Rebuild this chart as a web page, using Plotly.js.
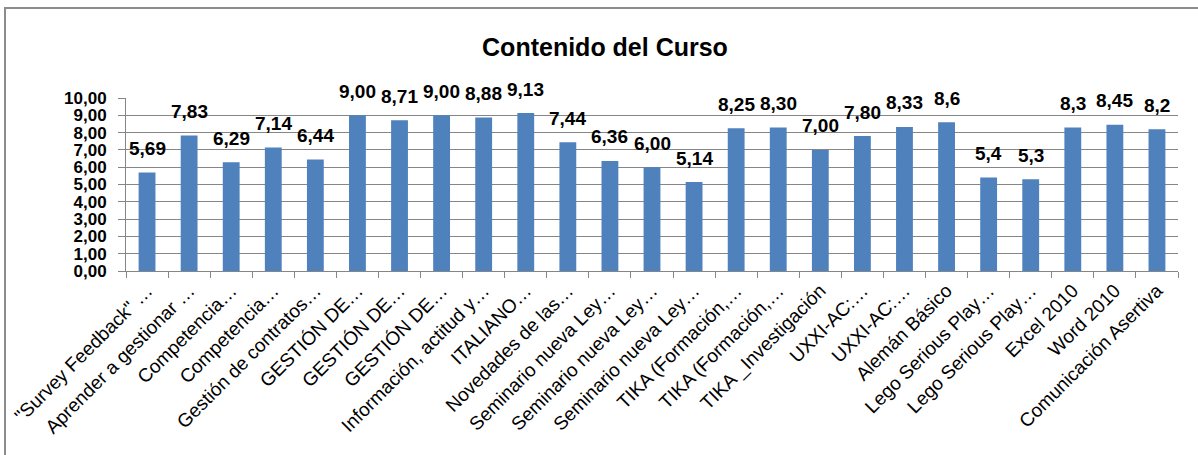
<!DOCTYPE html>
<html>
<head>
<meta charset="utf-8">
<script src="https://cdn.plot.ly/plotly-3.0.1.min.js"></script>
<style>
html,body{margin:0;padding:0;background:#fff;}
#chart{width:1198px;height:455px;}
</style>
</head>
<body>
<div id="chart"></div>
<script>
const categories = [
  '"Survey Feedback" \u2026',
  'Aprender a gestionar \u2026',
  'Competencia\u2026',
  'Competencia\u2026',
  'Gestión de contratos\u2026',
  'GESTIÓN DE\u2026',
  'GESTIÓN DE\u2026',
  'GESTIÓN DE\u2026',
  'Información, actitud y\u2026',
  'ITALIANO\u2026',
  'Novedades de las\u2026',
  'Seminario nueva Ley\u2026',
  'Seminario nueva Ley\u2026',
  'Seminario nueva Ley\u2026',
  'TIKA (Formación,\u2026',
  'TIKA (Formación,\u2026',
  'TIKA _Investigación',
  'UXXI-AC:\u2026',
  'UXXI-AC:\u2026',
  'Alemán Básico',
  'Lego Serious Play\u2026',
  'Lego Serious Play\u2026',
  'Excel 2010',
  'Word 2010',
  'Comunicación Asertiva'
];
const values = [5.69, 7.83, 6.29, 7.14, 6.44, 9.00, 8.71, 9.00, 8.88, 9.13, 7.44, 6.36, 6.00, 5.14, 8.25, 8.30, 7.00, 7.80, 8.33, 8.6, 5.4, 5.3, 8.3, 8.45, 8.2];
const valueLabels = ['5,69','7,83','6,29','7,14','6,44','9,00','8,71','9,00','8,88','9,13','7,44','6,36','6,00','5,14','8,25','8,30','7,00','7,80','8,33','8,6','5,4','5,3','8,3','8,45','8,2'];
const yTicks = [0,1,2,3,4,5,6,7,8,9,10];

const idx = categories.map((c, i) => i);
const boundaries = categories.map((c, i) => i - 0.5).concat([categories.length - 0.5]);
const FONT = 'Liberation Sans, Arial, sans-serif';
const GRID = '#868686';

const trace = {
  type: 'bar',
  x: idx,
  y: values,
  marker: {color: '#4F81BD'},
  hoverinfo: 'skip'
};
const trace2 = {
  type: 'scatter', mode: 'none', x: [categories.length - 0.5], y: [0],
  xaxis: 'x2', yaxis: 'y', showlegend: false, hoverinfo: 'skip'
};

const annotations = values.map((v, i) => ({
  x: i, y: v, xref: 'x', yref: 'y',
  text: valueLabels[i], showarrow: false,
  yanchor: 'middle', yshift: 24,
  font: {family: FONT, size: 19, color: '#000', weight: 'bold'}
}));

const layout = {
  width: 1198, height: 455,
  margin: {l: 126, r: 20, t: 98, b: 184},
  paper_bgcolor: '#fff', plot_bgcolor: '#fff',
  separators: ',.',
  showlegend: false,
  bargap: 0.6,
  title: {
    text: '<b>Contenido del Curso</b>',
    x: 0.505, xref: 'container', xanchor: 'center',
    y: 1 - 47/455, yref: 'container', yanchor: 'middle',
    font: {family: FONT, size: 25, color: '#000'}
  },
  xaxis: {
    range: [-0.5, categories.length - 0.5],
    tickmode: 'array', tickvals: idx, ticktext: categories,
    tickangle: -45, ticks: '',
    tickfont: {family: FONT, size: 19, color: '#000'},
    showgrid: false, zeroline: false,
    showline: true, linecolor: GRID, linewidth: 1
  },
  xaxis2: {
    overlaying: 'x', anchor: 'y', side: 'bottom',
    range: [-0.5, categories.length - 0.5],
    tickmode: 'array', tickvals: boundaries,
    ticks: 'outside', ticklen: 6, tickcolor: GRID, tickwidth: 1,
    showticklabels: false, showgrid: false, zeroline: false, showline: false
  },
  yaxis: {
    range: [0, 10],
    tickmode: 'array', tickvals: yTicks,
    tickformat: '.2f',
    ticks: 'outside', ticklen: 7, tickcolor: GRID,
    ticklabelstandoff: 8,
    tickfont: {family: FONT, size: 17, color: '#000', weight: 'bold'},
    showgrid: true, gridcolor: GRID, gridwidth: 1,
    zeroline: false,
    showline: true, linecolor: GRID, linewidth: 1
  },
  shapes: [{
    type: 'rect', xref: 'paper', yref: 'paper',
    x0: (5 - 126) / 1052, x1: (1210 - 126) / 1052,
    y0: (271 - 470) / 173, y1: (271 - 8) / 173,
    line: {color: '#8c8c8c', width: 2}, fillcolor: 'rgba(0,0,0,0)', layer: 'below'
  }],
  annotations: annotations
};

Plotly.newPlot('chart', [trace, trace2], layout, {displayModeBar: false, staticPlot: true});
</script>
</body>
</html>
